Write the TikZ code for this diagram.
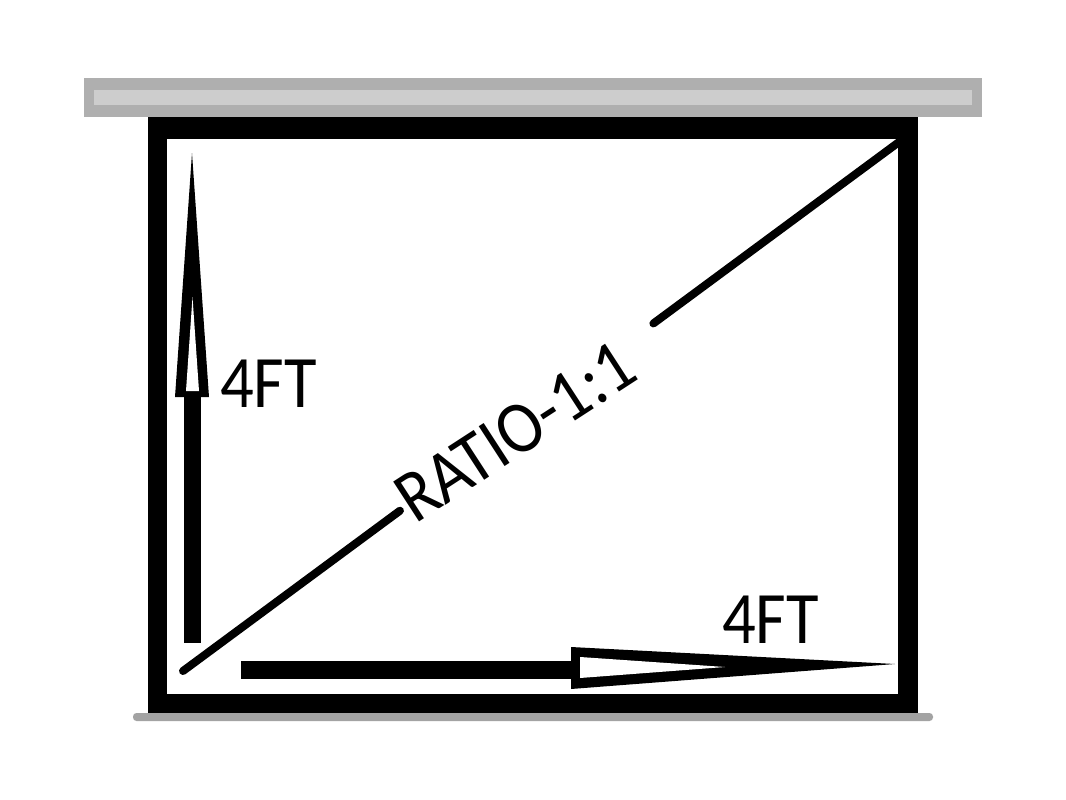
\documentclass[tikz,border=0pt]{standalone}
\usepackage{fontspec}
\setmainfont{Carlito}
\usetikzlibrary{calc}
\definecolor{barouter}{HTML}{AFAFAF}
\definecolor{barinner}{HTML}{CDCDCD}
\definecolor{barbottom}{HTML}{A3A3A3}
\begin{document}
\begin{tikzpicture}[x=1pt,y=-1pt,
  lbl/.style={inner sep=0pt, font=\fontsize{74}{80}\selectfont, anchor=base west},
  diag/.style={line width=8pt, line cap=round}]
\useasboundingbox (0,0) rectangle (1066,800);
\fill[white] (0,0) rectangle (1066,800);
% top roller bar
\fill[barouter] (84,78) rectangle (982,117);
\fill[barinner] (94,90) rectangle (972,105);
% screen frame
\fill[black] (148,117) rectangle (918,713);
\fill[white] (167,139) rectangle (898,694);
% bottom bar
\fill[barbottom, rounded corners=3.5pt] (133,713) rectangle (933,721);
% diagonal
\coordinate (dA) at (183,671);
\coordinate (dB) at (899,142);
\draw[diag] (dA) -- ($(dA)!0.303!(dB)$);
\draw[diag] ($(dA)!0.657!(dB)$) -- (dB);
% vertical arrow
\fill (175,397) -- (209,397) -- (192,153) -- cycle;
\fill[white] (186,391) -- (199,391) -- (192.5,297) -- cycle;
\fill (184,392) rectangle (201,643);
% horizontal arrow
\fill (571,647) -- (571,689) -- (895,664) -- cycle;
\fill[white] (580,657) -- (580,678) -- (725,667) -- cycle;
\fill (241,661) rectangle (578,679);
% labels
\node[lbl] (lv) at (220,407) {\scalebox{0.9}[1]{4FT}};
\node[lbl] (lh) at (722,643) {\scalebox{0.9}[1]{4FT}};
\node[lbl, rotate=33] (lr) at (415,525) {\scalebox{0.9}[1]{RATIO-1:1}};
\end{tikzpicture}
\end{document}
